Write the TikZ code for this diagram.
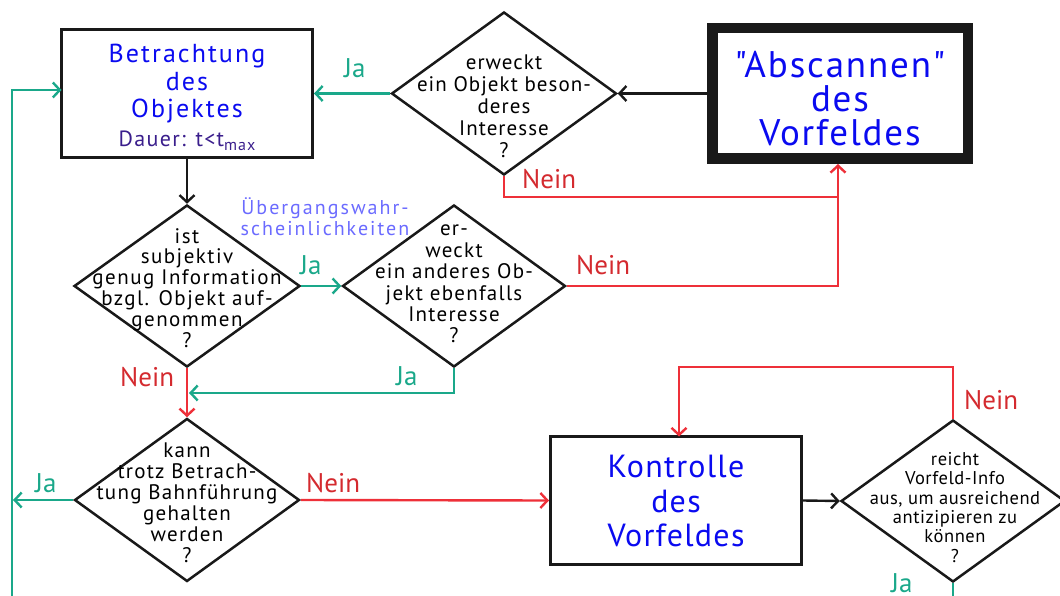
\documentclass[tikz,border=0pt]{standalone}
\usepackage{fontspec}
\setmainfont{PT Sans}
\newfontfamily\plainsans{PT Sans}
\usetikzlibrary{arrows.meta,shapes.geometric}
\definecolor{flowgreen}{HTML}{1AA88A}
\definecolor{flowred}{HTML}{EE3039}
\definecolor{neinred}{HTML}{D42A2F}
\definecolor{titleblue}{HTML}{0A0AF0}
\definecolor{hintblue}{HTML}{6B6BFF}
\definecolor{durviolet}{HTML}{3A1E8C}
\newcommand\fsz[2]{\fontsize{#1}{#2}\selectfont}
\newcommand\spaced[1]{\addfontfeatures{LetterSpace=#1}}

\begin{document}
\begin{tikzpicture}[x=1pt,y=-1pt,
  >={Straight Barb[length=7pt,width=15pt]},
  procbox/.style={draw=black!90, line width=3pt, rectangle, inner sep=0pt,
    minimum width=251pt, minimum height=128pt},
  scanbox/.style={draw=black!90, line width=10.5pt, rectangle, inner sep=0pt,
    minimum width=255.5pt, minimum height=130.5pt},
  decision/.style={draw=black!90, line width=2.5pt, shape=diamond, inner sep=0pt,
    minimum width=225pt, minimum height=163pt},
  dtext/.style={align=center, inner sep=0pt, anchor=north, text=black},
  btext/.style={align=center, inner sep=0pt, anchor=north, text=titleblue},
  jalabel/.style={text=flowgreen, inner sep=0pt, anchor=base west, font=\fsz{27}{27}},
  neinlabel/.style={text=neinred, inner sep=0pt, anchor=base west, font=\fsz{27}{27}},
  blackflow/.style={draw=black!90, line width=2.4pt},
  yesflow/.style={draw=flowgreen, line width=2.4pt},
  noflow/.style={draw=flowred, line width=2.4pt},
]
\useasboundingbox (0,0) rectangle (1060,596);

% process boxes
\node[procbox] (betr) at (187,93.5) {};
\node[scanbox] (scan) at (840,93.5) {};
\node[procbox] (kontr) at (676,500.5) {};

\node[btext, font=\fsz{26}{27.5}\spaced{8}] (betrtxt) at (187,44) {Betrachtung\\des\\Objektes};
\node[text=durviolet, inner sep=0pt, anchor=base, font=\fsz{22}{22}\spaced{6}] (dauer) at (187,147)
  {Dauer: t<t\raisebox{-0.35ex}{\fsz{16}{16}max}};
\node[btext, font=\plainsans\fsz{37}{34}\spaced{5}] (scantxt) at (840,51) {"Abscannen"\\des\\Vorfeldes};
\node[btext, font=\fsz{32}{34.5}\spaced{4}] (kontrtxt) at (676,455) {Kontrolle\\des\\Vorfeldes};

% decisions
\node[decision] (d1) at (504,93.5) {};
\node[decision, minimum width=226pt, minimum height=162pt] (d2) at (187,286) {};
\node[decision, minimum width=223pt, minimum height=162pt] (d3) at (454,286) {};
\node[decision] (d4) at (187,500) {};
\node[decision, minimum width=224pt, minimum height=162pt] (d5) at (953,501) {};

\node[dtext, font=\fsz{21}{22}\spaced{5}] (d1txt) at (504,55)
  {erweckt\\ein Objekt beson-\\deres\\Interesse\\?};
\node[dtext, font=\fsz{21}{20.8}\spaced{7}] (d2txt) at (187,228)
  {ist\\subjektiv\\genug Information\\bzgl. Objekt auf-\\genommen\\?};
\node[dtext, font=\fsz{21}{21.4}\spaced{6}] (d3txt) at (454,225)
  {er-\\weckt\\ein anderes Ob-\\jekt ebenfalls\\Interesse\\?};
\node[dtext, font=\fsz{21}{21}\spaced{6}] (d4txt) at (187,443)
  {kann\\trotz Betrach-\\tung Bahnführung\\gehalten\\werden\\?};
\node[dtext, font=\fsz{18.5}{19.4}\spaced{3}] (d5txt) at (955,452)
  {reicht\\Vorfeld-Info\\aus, um ausreichend\\antizipieren zu\\können\\?};

\node[text=hintblue, align=center, inner sep=0pt, anchor=north, font=\fsz{20}{21}\spaced{10}] (hint)
  at (325,197) {Übergangswahr-\\scheinlichkeiten};

% routing points
\coordinate (scanin) at (838,164);
\coordinate (nojoin) at (838,197);
\coordinate (d3right) at (838,286);
\coordinate (yesback) at (189,393);
\coordinate (leftrail) at (13,500);
\coordinate (railbot) at (12,596);
\coordinate (betrin) at (61.5,90);
\coordinate (loopcorner) at (679,367);
\coordinate (kontrin) at (679,436.5);
\coordinate (d5out) at (953,596);

% connectors
\draw[blackflow,->] (scan.west) -- (d1.east);
\draw[yesflow,->] (d1.west) -- (betr.east);
\draw[noflow] (d1.south) |- (nojoin);
\draw[noflow,->] (d3.east) -- (d3right) -- (scanin);
\draw[blackflow,->] (betr.south) -- (d2.north);
\draw[yesflow,->] (d2.east) -- (d3.west);
\draw[yesflow,->] (d3.south) |- (yesback);
\draw[noflow,->] (d2.south) -- (d4.north);
\draw[yesflow,->] (d4.west) -- (leftrail);
\draw[yesflow,->] (railbot) |- (betrin);
\draw[noflow,->] (d4.east) -- (kontr.west);
\draw[blackflow,->] (kontr.east) -- (d5.west);
\draw[noflow,->] (d5.north) |- (loopcorner) -- (kontrin);
\draw[yesflow] (d5.south) -- (d5out);

% branch labels
\node[jalabel] (ja1) at (344,78) {Ja};
\node[neinlabel] (nein1) at (522,189) {Nein};
\node[jalabel] (ja2) at (300,274) {Ja};
\node[neinlabel] (nein3) at (576,274) {Nein};
\node[jalabel] (ja3) at (396,385) {Ja};
\node[neinlabel] (nein2) at (120,386) {Nein};
\node[jalabel] (ja4) at (35,492) {Ja};
\node[neinlabel] (nein4) at (306,492) {Nein};
\node[neinlabel] (nein5) at (964,409) {Nein};
\node[jalabel] (ja5) at (891,592) {Ja};
\end{tikzpicture}
\end{document}
